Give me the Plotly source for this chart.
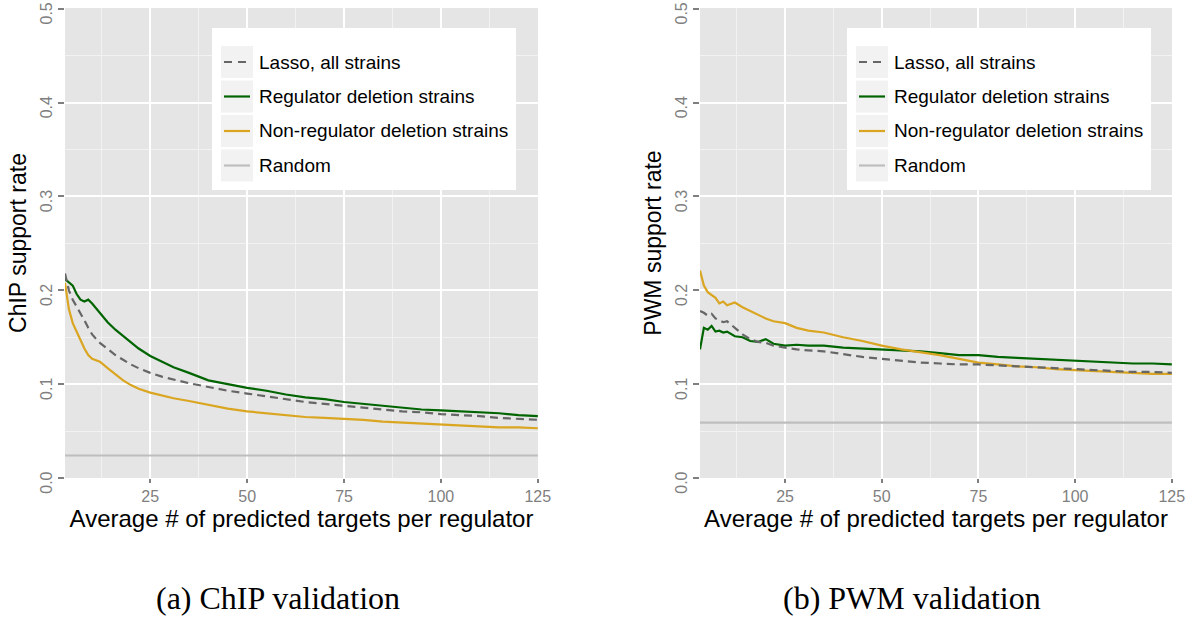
import plotly.graph_objects as go

W, H = 1194, 617

# ---- data -------------------------------------------------------------
x_targets = [3, 4, 5, 6, 7, 8, 9, 10, 12, 14, 16, 18, 20, 22, 25, 28, 31, 35,
             40, 45, 50, 55, 60, 65, 70, 75, 80, 85, 90, 95, 100, 105, 110,
             115, 120, 125]

chip_lasso = [0.218, 0.200, 0.190, 0.183, 0.176, 0.168, 0.160, 0.153, 0.144,
              0.137, 0.131, 0.126, 0.121, 0.117, 0.112, 0.108, 0.105, 0.101,
              0.097, 0.093, 0.090, 0.087, 0.084, 0.081, 0.079, 0.077, 0.075,
              0.073, 0.071, 0.070, 0.068, 0.067, 0.066, 0.064, 0.063, 0.062]
chip_reg = [0.212, 0.208, 0.205, 0.196, 0.190, 0.188, 0.190, 0.186, 0.176,
            0.166, 0.158, 0.151, 0.145, 0.138, 0.130, 0.124, 0.118, 0.112,
            0.104, 0.100, 0.096, 0.093, 0.089, 0.086, 0.084, 0.081, 0.079,
            0.077, 0.075, 0.073, 0.072, 0.071, 0.070, 0.069, 0.067, 0.066]
chip_nonreg = [0.208, 0.180, 0.165, 0.155, 0.147, 0.138, 0.131, 0.127, 0.124,
               0.117, 0.110, 0.104, 0.099, 0.095, 0.091, 0.088, 0.085, 0.082,
               0.078, 0.074, 0.071, 0.069, 0.067, 0.065, 0.064, 0.063, 0.062,
               0.060, 0.059, 0.058, 0.057, 0.056, 0.055, 0.054, 0.054, 0.053]
chip_random = 0.024

pwm_lasso = [0.178, 0.176, 0.173, 0.175, 0.170, 0.168, 0.166, 0.167, 0.160,
             0.153, 0.148, 0.145, 0.144, 0.141, 0.139, 0.137, 0.136, 0.135,
             0.132, 0.129, 0.127, 0.125, 0.123, 0.122, 0.121, 0.121, 0.120,
             0.119, 0.118, 0.117, 0.116, 0.115, 0.114, 0.113, 0.113, 0.112]
pwm_reg = [0.137, 0.160, 0.158, 0.162, 0.156, 0.157, 0.155, 0.156, 0.151,
           0.150, 0.146, 0.145, 0.148, 0.143, 0.141, 0.142, 0.141, 0.141,
           0.139, 0.138, 0.137, 0.136, 0.135, 0.133, 0.131, 0.131, 0.129,
           0.128, 0.127, 0.126, 0.125, 0.124, 0.123, 0.122, 0.122, 0.121]
pwm_nonreg = [0.221, 0.205, 0.198, 0.195, 0.192, 0.186, 0.188, 0.184, 0.187,
              0.182, 0.178, 0.174, 0.170, 0.167, 0.165, 0.160, 0.157, 0.155,
              0.150, 0.146, 0.141, 0.137, 0.134, 0.131, 0.127, 0.123, 0.121,
              0.119, 0.118, 0.116, 0.115, 0.114, 0.113, 0.112, 0.111, 0.111]
pwm_random = 0.059

series_names = ["Lasso, all strains", "Regulator deletion strains",
                "Non-regulator deletion strains", "Random"]
x_tick_vals = [25, 50, 75, 100, 125]
y_tick_vals = [0.0, 0.1, 0.2, 0.3, 0.4, 0.5]
y_tick_text = ["0.0", "0.1", "0.2", "0.3", "0.4", "0.5"]
y_titles = ["ChIP support rate", "PWM support rate"]
captions = ["(a) ChIP validation", "(b) PWM validation"]

# ---- style ------------------------------------------------------------
COL_LASSO = "#666666"
COL_REG = "#006400"
COL_NONREG = "#DAA520"
COL_RANDOM = "#BEBEBE"
PANEL_BG = "#E5E5E5"
KEY_BG = "#F2F2F2"
TICK_GREY = "#7F7F7F"
SANS = "Liberation Sans, Arial, Helvetica, sans-serif"
SERIF = "Liberation Serif, Times New Roman, serif"

# panel boxes in pixels: (left, right, top, bottom)
panels = [(65, 538, 8, 478), (700, 1172, 8, 478)]


def px(x):
    return x / W


def py(y):
    return 1 - y / H


fig = go.Figure()

data_sets = [
    (chip_lasso, chip_reg, chip_nonreg, chip_random),
    (pwm_lasso, pwm_reg, pwm_nonreg, pwm_random),
]

for i, (lasso, reg, nonreg, rnd) in enumerate(data_sets):
    xa = "x" if i == 0 else "x2"
    ya = "y" if i == 0 else "y2"
    fig.add_trace(go.Scatter(x=[x_targets[0], x_targets[-1]], y=[rnd, rnd],
                             mode="lines", name=series_names[3],
                             line=dict(color=COL_RANDOM, width=2.2),
                             xaxis=xa, yaxis=ya, showlegend=False))
    fig.add_trace(go.Scatter(x=x_targets, y=reg, mode="lines",
                             name=series_names[1],
                             line=dict(color=COL_REG, width=2.2),
                             xaxis=xa, yaxis=ya, showlegend=False))
    fig.add_trace(go.Scatter(x=x_targets, y=nonreg, mode="lines",
                             name=series_names[2],
                             line=dict(color=COL_NONREG, width=2.2),
                             xaxis=xa, yaxis=ya, showlegend=False))
    fig.add_trace(go.Scatter(x=x_targets, y=lasso, mode="lines",
                             name=series_names[0],
                             line=dict(color=COL_LASSO, width=2.2, dash="8px,5px"),
                             xaxis=xa, yaxis=ya, showlegend=False))

axis_common = dict(
    showgrid=True, gridcolor="white", gridwidth=2,
    zeroline=False, showline=False,
    ticks="outside", ticklen=6, tickwidth=1.5, tickcolor=TICK_GREY,
    tickfont=dict(family=SANS, size=16, color=TICK_GREY),
    automargin=False,
)

layout = dict(
    width=W, height=H,
    margin=dict(l=0, r=0, t=0, b=0),
    paper_bgcolor="white", plot_bgcolor=PANEL_BG,
    showlegend=False,
)

for i, (l, r, t, b) in enumerate(panels):
    sfx = "" if i == 0 else "2"
    layout["xaxis" + sfx] = dict(
        axis_common,
        domain=[px(l), px(r)], anchor="y" + sfx,
        range=[x_targets[0], x_targets[-1] + 0.05],
        tickvals=x_tick_vals, ticklen=4,
        minor=dict(showgrid=True, gridcolor=KEY_BG, gridwidth=1,
                   tickvals=[12.5, 37.5, 62.5, 87.5, 112.5], ticks=""),
        title=dict(text="Average # of predicted targets per regulator",
                   font=dict(family=SANS, size=24, color="black"), standoff=0),
    )
    layout["yaxis" + sfx] = dict(
        axis_common,
        domain=[py(b), py(t)], anchor="x" + sfx,
        range=[0, 0.5008],
        tickvals=y_tick_vals, ticktext=y_tick_text, tickangle=-90,
        ticklabelshift=7, ticklabeloverflow="allow",
        minor=dict(showgrid=True, gridcolor=KEY_BG, gridwidth=1,
                   tickvals=[0.05, 0.15, 0.25, 0.35, 0.45], ticks=""),
        title=dict(text=y_titles[i],
                   font=dict(family=SANS, size=23, color="black"), standoff=4),
    )

fig.update_layout(**layout)

# ---- in-panel legends -------------------------------------------------
shapes = []
annotations = []
legend_styles = [
    dict(color=COL_LASSO, dash="8px,6px"),
    dict(color=COL_REG, dash="solid"),
    dict(color=COL_NONREG, dash="solid"),
    dict(color=COL_RANDOM, dash="solid"),
]
for i, (l, r, t, b) in enumerate(panels):
    bx0 = l + 147
    bx1 = bx0 + 304
    by0, by1 = 28, 190
    shapes.append(dict(type="rect", xref="paper", yref="paper",
                       x0=px(bx0), x1=px(bx1), y0=py(by1), y1=py(by0),
                       fillcolor="white", line=dict(width=0), layer="above"))
    for k, st in enumerate(legend_styles):
        ky0 = 46 + k * 34.5
        ky1 = ky0 + 32
        kx0 = bx0 + 9
        kx1 = kx0 + 32
        shapes.append(dict(type="rect", xref="paper", yref="paper",
                           x0=px(kx0), x1=px(kx1), y0=py(ky1), y1=py(ky0),
                           fillcolor=KEY_BG, line=dict(width=0), layer="above"))
        ym = (ky0 + ky1) / 2
        shapes.append(dict(type="line", xref="paper", yref="paper",
                           x0=px(kx0 + 3), x1=px(kx1 - 3), y0=py(ym), y1=py(ym),
                           line=dict(color=st["color"], width=2.2, dash=st["dash"]),
                           layer="above"))
        annotations.append(dict(text=series_names[k], xref="paper", yref="paper",
                                x=px(kx1 + 4), y=py(ym), xanchor="left",
                                yanchor="middle", showarrow=False,
                                font=dict(family=SANS, size=19, color="black")))
    annotations.append(dict(text=captions[i], xref="paper", yref="paper",
                            x=px((l + r) / 2 - 24), y=py(598), xanchor="center",
                            yanchor="middle", showarrow=False,
                            font=dict(family=SERIF, size=32, color="black")))

fig.update_layout(shapes=shapes, annotations=annotations)

fig.write_html("out.html")
